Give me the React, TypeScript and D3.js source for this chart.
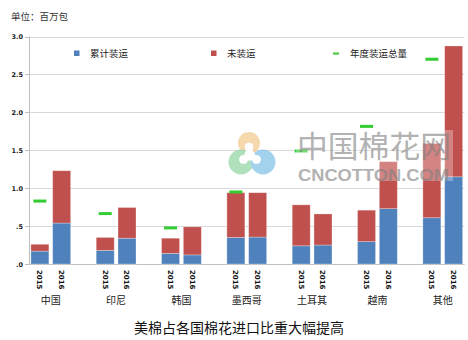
import React from 'react';
import * as d3 from 'd3';

const countries = ['中国', '印尼', '韩国', '墨西哥', '土耳其', '越南', '其他'];
const years = ['2015', '2016'];
const shipped2015 = [0.17, 0.18, 0.14, 0.35, 0.24, 0.295, 0.61];
const unshipped2015 = [0.09, 0.17, 0.2, 0.59, 0.54, 0.415, 0.98];
const shipped2016 = [0.54, 0.34, 0.12, 0.355, 0.25, 0.73, 1.15];
const unshipped2016 = [0.69, 0.405, 0.37, 0.585, 0.41, 0.62, 1.725];
const annualTotal = [0.83, 0.665, 0.476, 0.95, 1.49, 1.815, 2.7];
const yTicks = [0, 0.5, 1.0, 1.5, 2.0, 2.5, 3.0];
const yTickLabels = ['.0', '.5', '1.0', '1.5', '2.0', '2.5', '3.0'];
const legendLabels = ['累计装运', '未装运', '年度装运总量'];
const unitLabel = '单位：百万包';
const title = '美棉占各国棉花进口比重大幅提高';

const W = 468;
const H = 340;
const BLUE = '#4f81bd';
const RED = '#c0504d';
const GREEN = '#33cc33';
const CJK = '"Noto Sans CJK SC", "Noto Sans", sans-serif';
const LAT = '"DejaVu Sans", Verdana, sans-serif';

export default function App() {
  const left = 29;
  const right = 464.5;
  const groupW = 65.33;
  const x0 = d3.scaleBand<string>().domain(countries).range([left, left + groupW * countries.length]);
  const x1 = d3.scaleBand<string>().domain([...years, 'gap']).range([0, groupW]).paddingInner(0.174).paddingOuter(0.087);
  const y = d3.scaleLinear().domain([0, 3]).range([264, 36.5]);
  const bw = x1.bandwidth();

  const seriesByYear: Record<string, { shipped: number[]; unshipped: number[] }> = {
    '2015': { shipped: shipped2015, unshipped: unshipped2015 },
    '2016': { shipped: shipped2016, unshipped: unshipped2016 },
  };

  return (
    <svg width={W} height={H} style={{ position: 'absolute', left: 0, top: 0, background: '#fff' }}>
      <rect x={0} y={0} width={W} height={H} fill="#fff" />
      <text x={11} y={19.5} fontFamily={CJK} fontSize={9.5} fill="#333">{unitLabel}</text>

      {/* gridlines */}
      {yTicks.map((t) => (
        <line key={'g' + t} x1={left} x2={right} y1={Math.round(y(t)) + 0.5} y2={Math.round(y(t)) + 0.5}
          stroke={t === 0 ? '#bfbfbf' : '#d9d9d9'} strokeWidth={1} />
      ))}
      {/* y axis */}
      <line x1={left + 0.5} x2={left + 0.5} y1={y(3)} y2={y(0)} stroke="#bfbfbf" />
      {yTicks.map((t, i) => (
        <g key={'t' + t}>
          <line x1={left - 4} x2={left} y1={Math.round(y(t)) + 0.5} y2={Math.round(y(t)) + 0.5} stroke="#bfbfbf" />
          <text x={23} y={y(t) + 2.5} textAnchor="end" fontFamily={LAT} fontSize={6.5} fontWeight="bold" fill="#222">
            {yTickLabels[i]}
          </text>
        </g>
      ))}

      {/* watermark logo (behind bars) */}
      <g opacity={0.7}>
        <circle cx={249} cy={143} r={11} fill="#f2c98a" />
        <circle cx={241} cy={162} r={12.5} fill="#8fd3a0" />
        <circle cx={263} cy={162} r={12.5} fill="#7dbfe6" />
      </g>
      <g fill="#fff" stroke="#fff">
        <path d="M249,147 L244,159 L256,159 Z" strokeWidth={3} />
        <circle cx={249} cy={147} r={4} />
        <circle cx={243.5} cy={159.5} r={4} />
        <circle cx={256.5} cy={159.5} r={4} />
      </g>

      {/* bars */}
      {countries.map((c, ci) => (
        <g key={c}>
          {years.map((yr) => {
            const bx = (x0(c) as number) + (x1(yr) as number);
            const s = seriesByYear[yr].shipped[ci];
            const u = seriesByYear[yr].unshipped[ci];
            return (
              <g key={yr}>
                <rect x={bx} y={y(s)} width={bw} height={y(0) - y(s)} fill={BLUE} stroke="#ffffff" strokeOpacity={0.35} strokeWidth={0.8} />
                <rect x={bx} y={y(s + u)} width={bw} height={y(s) - y(s + u)} fill={RED} stroke="#ffffff" strokeOpacity={0.35} strokeWidth={0.8} />
                <text transform={`translate(${bx + bw / 2 - 2.6},${270}) rotate(90)`} fontFamily={LAT} fontSize={7} fontWeight="bold" fill="#111">
                  {yr}
                </text>
              </g>
            );
          })}
          {/* annual total marker over 2015 bar */}
          <rect x={(x0(c) as number) + (x1('2015') as number) + bw / 2 - 6.5} y={y(annualTotal[ci]) - 1.5} width={13} height={3} fill={GREEN} />
          <text x={(x0(c) as number) + ((x1('2015') as number) + (x1('2016') as number) + bw) / 2}
            y={303.5} textAnchor="middle" fontFamily={CJK} fontSize={10} fill="#222">
            {c}
          </text>
        </g>
      ))}

      {/* legend */}
      <rect x={74} y={50.5} width={5.5} height={5.5} fill={BLUE} />
      <text x={90} y={56.5} fontFamily={CJK} fontSize={9.5} fill="#222">{legendLabels[0]}</text>
      <rect x={211} y={50.5} width={5.5} height={5.5} fill={RED} />
      <text x={227} y={56.5} fontFamily={CJK} fontSize={9.5} fill="#222">{legendLabels[1]}</text>
      <rect x={333} y={52.5} width={6} height={2} fill={GREEN} />
      <text x={350} y={56.5} fontFamily={CJK} fontSize={9.5} fill="#222">{legendLabels[2]}</text>

      {/* watermark text */}
      <rect x={296} y={130} width={157} height={51} fill="#fff" opacity={0.3} />
      <text x={297} y={157} fontFamily={CJK} fontSize={30} fill="#808080" opacity={0.6} textLength={154} lengthAdjust="spacingAndGlyphs">中国棉花网</text>
      <text x={298} y={181} fontFamily={'"Liberation Sans", Arial, sans-serif'} fontWeight="bold" fontSize={17} fill="#808080" opacity={0.6} textLength={151} lengthAdjust="spacingAndGlyphs">CNCOTTON.COM</text>

      <text x={239} y={333} textAnchor="middle" fontFamily={CJK} fontSize={14} fill="#111">{title}</text>
    </svg>
  );
}
